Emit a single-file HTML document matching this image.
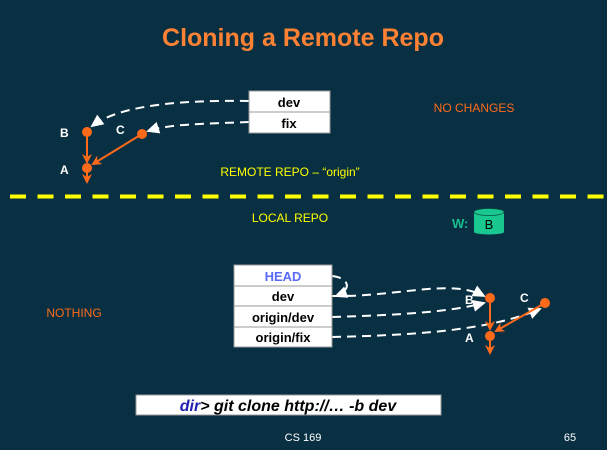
<!DOCTYPE html>
<html><head><meta charset="utf-8"><style>
html,body{margin:0;padding:0;background:#083042;}
svg{display:block;font-family:"Liberation Sans",Arial,sans-serif;}
</style></head><body>
<svg width="607" height="450" viewBox="0 0 607 450" xmlns="http://www.w3.org/2000/svg">
<defs>
<marker id="wa" markerWidth="13" markerHeight="12" refX="11" refY="6" orient="auto" markerUnits="userSpaceOnUse"><path d="M0,0 L13,6 L0,12 Z" fill="#fff"/></marker>
<marker id="oa" markerWidth="10" markerHeight="10" refX="8" refY="5" orient="auto" markerUnits="userSpaceOnUse"><path d="M0,0 L10,5 L0,10 L3,5 Z" fill="#ff6a1a"/></marker>
</defs>
<rect width="607" height="450" fill="#083042"/>
<text x="303" y="46" text-anchor="middle" font-size="25" font-weight="bold" fill="#ff8133">Cloning a Remote Repo</text>

<!-- remote -->
<g stroke="#fff" stroke-width="2" stroke-dasharray="9,6" fill="none">
<path d="M249,101 C180,100 120,105 92,126" marker-end="url(#wa)"/>
<path d="M249,122 C200,124 170,124 148,131" marker-end="url(#wa)"/>
</g>
<rect x="249" y="91" width="81" height="21" fill="#fff" stroke="#999"/>
<rect x="249" y="112" width="81" height="21" fill="#fff" stroke="#999"/>
<text x="289" y="107" text-anchor="middle" font-size="13" font-weight="bold">dev</text>
<text x="289" y="128" text-anchor="middle" font-size="13" font-weight="bold">fix</text>
<g stroke="#ff6a1a" stroke-width="2" fill="none">
<line x1="87" y1="132" x2="87" y2="162" marker-end="url(#oa)"/>
<line x1="142" y1="134" x2="93" y2="164" marker-end="url(#oa)"/>
<line x1="87" y1="168" x2="87" y2="182" marker-end="url(#oa)"/>
</g>
<g fill="#ff6a1a"><circle cx="87" cy="132" r="5"/><circle cx="142" cy="134" r="5"/><circle cx="87" cy="168" r="5"/></g>
<g fill="#fff" font-size="12" font-weight="bold">
<text x="60" y="137">B</text><text x="116" y="134">C</text><text x="60" y="174">A</text>
</g>
<text x="474" y="112" text-anchor="middle" font-size="12" fill="#ff6a1a">NO CHANGES</text>
<text x="290" y="176" text-anchor="middle" font-size="12" fill="#ffff00">REMOTE REPO – “origin”</text>

<line x1="10" y1="196.5" x2="607" y2="196.5" stroke="#ffff00" stroke-width="4" stroke-dasharray="16,11.5"/>

<!-- local -->
<text x="290" y="222" text-anchor="middle" font-size="12" fill="#ffff00">LOCAL REPO</text>
<text x="452" y="228" font-size="13" font-weight="bold" fill="#18c090">W:</text>
<rect x="474" y="212" width="30" height="20" fill="#18c890"/>
<ellipse cx="489" cy="232" rx="15" ry="2.5" fill="#18c890"/>
<ellipse cx="489" cy="212" rx="15" ry="3.5" fill="#18c890" stroke="#0b5040" stroke-width="0.8"/>
<text x="489" y="229" text-anchor="middle" font-size="13" fill="#000">B</text>

<g stroke="#fff" stroke-width="2" stroke-dasharray="9,6" fill="none">
<path d="M332,276 C350,278 352,290 336,296" marker-end="url(#wa)"/>
<path d="M332,296 C400,297 450,278 484,296" marker-end="url(#wa)"/>
<path d="M332,317 C400,315 450,312 484,303" marker-end="url(#wa)"/>
<path d="M332,337 C420,335 490,330 540,309" marker-end="url(#wa)"/>
</g>
<rect x="234" y="265" width="98" height="21" fill="#fff" stroke="#999"/>
<rect x="234" y="286" width="98" height="20" fill="#fff" stroke="#999"/>
<rect x="234" y="306" width="98" height="21" fill="#fff" stroke="#999"/>
<rect x="234" y="327" width="98" height="20" fill="#fff" stroke="#999"/>
<g text-anchor="middle" font-size="13" font-weight="bold">
<text x="283" y="281" fill="#5a6af8">HEAD</text>
<text x="283" y="301">dev</text>
<text x="283" y="322">origin/dev</text>
<text x="283" y="342">origin/fix</text>
</g>
<g stroke="#ff6a1a" stroke-width="2" fill="none">
<line x1="490" y1="298" x2="490" y2="329" marker-end="url(#oa)"/>
<line x1="545" y1="303" x2="496" y2="331" marker-end="url(#oa)"/>
<line x1="490" y1="336" x2="490" y2="353" marker-end="url(#oa)"/>
</g>
<g fill="#ff6a1a"><circle cx="490" cy="298" r="5"/><circle cx="545" cy="303" r="5"/><circle cx="490" cy="336" r="5"/></g>
<g fill="#fff" font-size="12" font-weight="bold">
<text x="465" y="304">B</text><text x="520" y="302">C</text><text x="465" y="342">A</text>
</g>
<text x="74" y="317" text-anchor="middle" font-size="12" fill="#ff6a1a">NOTHING</text>

<rect x="136" y="395" width="305" height="20" fill="#fff" stroke="#999"/>
<text x="288" y="411" text-anchor="middle" font-size="16" font-weight="bold" font-style="italic"><tspan fill="#2020b0">dir</tspan><tspan fill="#000">&gt; git clone http://… -b dev</tspan></text>

<text x="303" y="441" text-anchor="middle" font-size="11" fill="#fff">CS 169</text>
<text x="570" y="441" text-anchor="middle" font-size="11" fill="#fff">65</text>
</svg>
</body></html>
